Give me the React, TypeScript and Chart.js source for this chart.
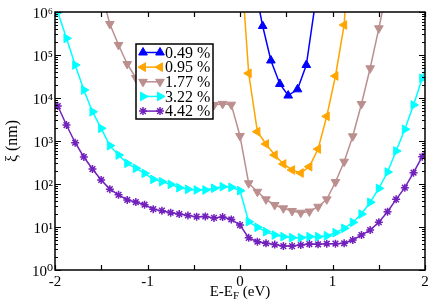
import { useEffect, useRef } from 'react';
import { Chart, registerables } from 'chart.js';

Chart.register(...registerables);

// ---------- data ----------
// common energy grid (eV) used by the 3.22 % and 4.42 % curves
const energyGrid = [
  -2.064, -1.97, -1.876, -1.782, -1.688, -1.595, -1.501, -1.407, -1.313, -1.219, -1.126,
  -1.032, -0.938, -0.844, -0.75, -0.657, -0.563, -0.469, -0.375, -0.281, -0.188, -0.094,
  0, 0.094, 0.188, 0.281, 0.375, 0.469, 0.563, 0.657, 0.75, 0.844, 0.938, 1.032, 1.126,
  1.219, 1.313, 1.407, 1.501, 1.595, 1.688, 1.782, 1.876, 1.97, 2.064,
];

const xi442 = [
  12000, 6500, 2350, 910, 425, 223, 124, 76, 56, 42.5, 38, 33, 26, 24, 21.5, 20, 18.5, 17.4,
  17.6, 16.3, 17, 15, 11.1, 5.6, 4.55, 4.18, 3.9, 3.6, 3.6, 3.81, 4.02, 3.96, 4.09, 4.1, 4.18,
  4.98, 6.5, 8.5, 12.9, 22.7, 44, 82, 183, 431, 1100,
];

const xi322 = [
  4e6, 1.0e6, 244000, 58500, 15350, 4800, 1970, 780, 472, 303, 232, 177, 128, 113, 98, 82, 75,
  72.6, 72.6, 79.5, 86.5, 83.8, 70, 13.3, 9.84, 7.78, 6.51, 5.95, 5.64, 5.64, 5.95, 5.95, 6.24,
  7.37, 9.33, 12.8, 20, 37.5, 79, 190, 585, 1870, 6880, 28700, 120000,
];

const energy177 = [
  -1.501, -1.407, -1.313, -1.219, -1.126, -1.032, -0.938, -0.844, -0.75, -0.657, -0.563, -0.469,
  -0.375, -0.281, -0.188, -0.094, 0, 0.094, 0.188, 0.281, 0.375, 0.469, 0.563, 0.657, 0.75,
  0.844, 0.938, 1.032, 1.126, 1.219, 1.313, 1.407, 1.501, 1.595,
];
const xi177 = [
  3e6, 526000, 171000, 61700, 29200, 19000, 14000, 11500, 10000, 9000, 8300, 7800, 7300, 6900,
  7300, 7000, 1306, 104, 66, 44, 32.5, 27.2, 23.6, 21.5, 22.9, 29.6, 44, 111, 330, 1285, 7250,
  49100, 418000, 4e6,
];

const energy095 = [0.0, 0.094, 0.188, 0.281, 0.375, 0.469, 0.563, 0.657, 0.75, 0.844, 0.938, 1.032, 1.126, 1.219];
const xi095 = [3e7, 37500, 1645, 851, 472, 292, 212, 180, 253, 651, 3750, 32500, 499000, 1e9];

const energy049 = [0.151, 0.245, 0.334, 0.431, 0.521, 0.622, 0.717, 0.812];
const xi049 = [5e6, 472000, 74500, 21200, 11400, 15900, 58500, 1.5e6];

const seriesLabels = ['0.49 %', '0.95 %', '1.77 %', '3.22 %', '4.42 %'];

const xTickMarks = [-2, -1.5, -1, -0.5, 0, 0.5, 1, 1.5, 2];
const yDecades = [1, 10, 100, 1000, 10000, 100000, 1000000];
const yTickLabels = ['10⁰', '10¹', '10²', '10³', '10⁴', '10⁵', '10⁶'];

const SERIF = '"Liberation Serif", "DejaVu Serif", serif';

type Style = { color: string; shape: 'triangle' | 'star'; rot: number; r: number };
const styles: Style[] = [
  { color: '#0000ff', shape: 'triangle', rot: 0, r: 5 },
  { color: '#ffa500', shape: 'triangle', rot: 270, r: 5 },
  { color: '#bc8f8f', shape: 'triangle', rot: 180, r: 5 },
  { color: '#00ffff', shape: 'triangle', rot: 90, r: 5 },
  { color: '#7221bc', shape: 'star', rot: 0, r: 4 },
];

function drawMarker(ctx: CanvasRenderingContext2D, s: Style, x: number, y: number) {
  ctx.save();
  ctx.fillStyle = s.color;
  ctx.strokeStyle = s.color;
  ctx.beginPath();
  if (s.shape === 'triangle') {
    let rad = (s.rot * Math.PI) / 180;
    ctx.moveTo(x + Math.sin(rad) * s.r, y - Math.cos(rad) * s.r);
    rad += (2 * Math.PI) / 3;
    ctx.lineTo(x + Math.sin(rad) * s.r, y - Math.cos(rad) * s.r);
    rad += (2 * Math.PI) / 3;
    ctx.lineTo(x + Math.sin(rad) * s.r, y - Math.cos(rad) * s.r);
    ctx.closePath();
    ctx.fill();
    ctx.lineWidth = 1;
    ctx.stroke();
  } else {
    ctx.lineWidth = 1.5;
    for (let k = 0; k < 4; k++) {
      const a = (k * Math.PI) / 4;
      ctx.moveTo(x - Math.cos(a) * s.r, y - Math.sin(a) * s.r);
      ctx.lineTo(x + Math.cos(a) * s.r, y + Math.sin(a) * s.r);
    }
    ctx.stroke();
  }
  ctx.restore();
}

const decorPlugin = {
  id: 'decor',
  afterDatasetsDraw(chart: any) {
    const { ctx, chartArea: a, scales } = chart;
    const xs = scales.x;
    const ys = scales.y;
    ctx.save();
    // frame
    ctx.strokeStyle = '#000';
    ctx.lineWidth = 1.5;
    ctx.strokeRect(a.left, a.top, a.right - a.left, a.bottom - a.top);
    // ticks (inward, mirrored)
    ctx.lineWidth = 1.2;
    ctx.beginPath();
    for (const v of xTickMarks) {
      const px = Math.round(xs.getPixelForValue(v)) + 0.5;
      ctx.moveTo(px, a.bottom);
      ctx.lineTo(px, a.bottom - 5);
      ctx.moveTo(px, a.top);
      ctx.lineTo(px, a.top + 5);
    }
    for (let d = 0; d < yDecades.length; d++) {
      const base = yDecades[d];
      const maxM = d === yDecades.length - 1 ? 1 : 9;
      for (let m = 1; m <= maxM; m++) {
        const py = Math.round(ys.getPixelForValue(base * m)) + 0.5;
        const len = m === 1 ? 6 : 3;
        ctx.moveTo(a.left, py);
        ctx.lineTo(a.left + len, py);
        ctx.moveTo(a.right, py);
        ctx.lineTo(a.right - len, py);
      }
    }
    ctx.stroke();

    // legend box
    const lx = a.left + 81;
    const ly = a.top + 32;
    const lw = 77;
    const lh = 75;
    ctx.fillStyle = '#fff';
    ctx.fillRect(lx, ly, lw, lh);
    ctx.strokeStyle = '#000';
    ctx.lineWidth = 1.5;
    ctx.strokeRect(lx, ly, lw, lh);
    ctx.font = `16px ${SERIF}`;
    ctx.textBaseline = 'middle';
    ctx.textAlign = 'left';
    chart.data.datasets.forEach((ds: any, i: number) => {
      const st = styles[i];
      const ry = ly + 8.5 + i * 14.65;
      ctx.strokeStyle = st.color;
      ctx.lineWidth = 1.5;
      ctx.beginPath();
      ctx.moveTo(lx + 7, ry);
      ctx.lineTo(lx + 24, ry);
      ctx.stroke();
      drawMarker(ctx, st, lx + 7, ry);
      drawMarker(ctx, st, lx + 24, ry);
      ctx.fillStyle = '#000';
      ctx.fillText(ds.label, lx + 29, ry + 1);
    });

    // x axis title with subscript
    ctx.fillStyle = '#000';
    ctx.textBaseline = 'alphabetic';
    const big = `15px ${SERIF}`;
    const small = `11px ${SERIF}`;
    ctx.font = big;
    const t1 = 'E-E';
    const t3 = ' (eV)';
    const w1 = ctx.measureText(t1).width;
    const w3 = ctx.measureText(t3).width;
    ctx.font = small;
    const w2 = ctx.measureText('F').width;
    const total = w1 + w2 + w3;
    let sx = (a.left + a.right) / 2 - total / 2;
    const by = a.bottom + 26;
    ctx.font = big;
    ctx.fillText(t1, sx, by);
    sx += w1;
    ctx.font = small;
    ctx.fillText('F', sx, by + 3);
    sx += w2;
    ctx.font = big;
    ctx.fillText(t3, sx, by);

    // y axis title
    ctx.save();
    ctx.translate(a.left - 42, (a.top + a.bottom) / 2);
    ctx.rotate(-Math.PI / 2);
    ctx.font = `16px ${SERIF}`;
    ctx.textAlign = 'center';
    ctx.textBaseline = 'middle';
    ctx.fillText('ξ (nm)', 0, 0);
    ctx.restore();

    ctx.restore();
  },
};

export default function App() {
  const ref = useRef<HTMLCanvasElement | null>(null);
  useEffect(() => {
    document.body.style.margin = '0';
    const canvas = ref.current;
    if (!canvas) return;
    const sets = [
      [energy049, xi049],
      [energy095, xi095],
      [energy177, xi177],
      [energyGrid, xi322],
      [energyGrid, xi442],
    ];
    const datasets = sets.map(([E, xi], i) => {
      const st = styles[i];
      return {
        label: seriesLabels[i],
        data: E.map((e, j) => ({ x: e, y: xi[j] })),
        showLine: true,
        borderColor: st.color,
        backgroundColor: st.color,
        borderWidth: 1.5,
        pointStyle: st.shape,
        rotation: st.rot,
        pointRadius: st.r,
        pointBorderWidth: st.shape === 'star' ? 1.5 : 1,
        pointBackgroundColor: st.color,
        pointBorderColor: st.color,
      };
    });
    const chart = new Chart(canvas, {
      type: 'scatter',
      data: { datasets },
      options: {
        responsive: false,
        animation: false,
        devicePixelRatio: 1,
        layout: { padding: { top: 12, right: 11, left: 0, bottom: 0 } },
        plugins: { legend: { display: false }, tooltip: { enabled: false } },
        scales: {
          x: {
            type: 'linear',
            min: -2,
            max: 2,
            grid: { display: false, drawTicks: false },
            border: { display: false },
            ticks: {
              stepSize: 1,
              autoSkip: false,
              maxRotation: 0,
              padding: 3,
              color: '#000',
              font: { family: SERIF, size: 15 },
              callback: (v: any) => String(v),
            },
            afterFit: (s: any) => {
              s.height = 37;
            },
          },
          y: {
            type: 'logarithmic',
            min: 1,
            max: 1e6,
            grid: { display: false, drawTicks: false },
            border: { display: false },
            afterBuildTicks: (s: any) => {
              s.ticks = yDecades.map((v) => ({ value: v }));
            },
            ticks: {
              autoSkip: false,
              padding: 2,
              labelOffset: 2,
              color: '#000',
              font: { family: SERIF, size: 15 },
              callback: (v: any) => {
                const i = yDecades.indexOf(Number(v));
                return i >= 0 ? yTickLabels[i] : '';
              },
            },
            afterFit: (s: any) => {
              s.width = 55;
            },
          },
        },
      } as any,
      plugins: [decorPlugin],
    });
    return () => chart.destroy();
  }, []);
  return <canvas ref={ref} width={436} height={307} style={{ display: 'block' }} />;
}
